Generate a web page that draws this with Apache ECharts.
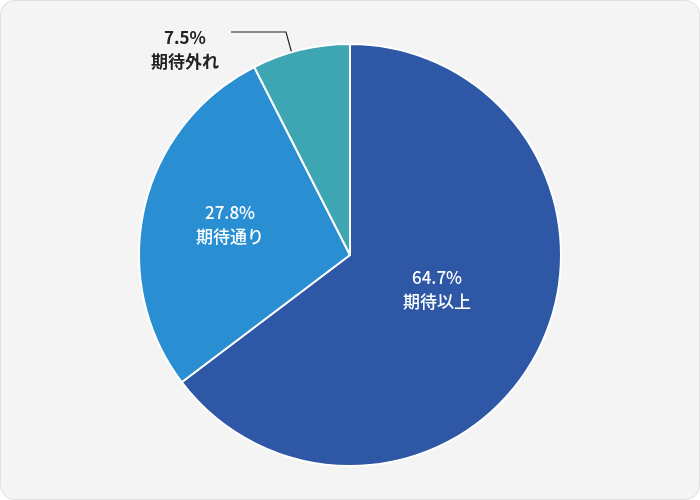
<!DOCTYPE html>
<html><head><meta charset="utf-8">
<script src="https://cdn.jsdelivr.net/npm/echarts@6/dist/echarts.min.js"></script>
<style>html,body{margin:0;background:#fff}#c{width:700px;height:500px}</style>
</head><body><div id="c"></div>
<script>
const categories = ['期待以上','期待通り','期待外れ'];
const values = [64.7, 27.8, 7.5];
const colors = ['#2E58A6','#2A8FD2','#3EA6B2'];
const chart = echarts.init(document.getElementById('c'));
const labelPos = [[437,290],[230,225],[185,50]];
chart.setOption({
  graphic:[{type:'rect',shape:{x:0.5,y:0.5,width:699,height:499,r:14},style:{fill:'#f4f4f4',stroke:'#e0e0e0'},z:-10}],
  series:[{
    type:'pie', center:[350,255], radius:[0,211], startAngle:90, clockwise:true,
    animation:false,
    itemStyle:{borderColor:'#fff',borderWidth:2},
    label:{show:true,position:'inside',color:'#fff',fontSize:17,fontWeight:500,lineHeight:24,
      fontFamily:'Noto Sans CJK JP',formatter:p=>p.value.toFixed(1)+'%\n'+p.name},
    labelLine:{show:false},
    labelLayout:function(p){
      const i=p.dataIndex, q=labelPos[i];
      const r={x:q[0],y:q[1],align:'center',verticalAlign:'middle'};
      if(i===2){r.labelLinePoints=[[297,72],[286,32],[231,32]];}
      return r;
    },
    data:categories.map((n,i)=>{
      const d={name:n,value:values[i],itemStyle:{color:colors[i]}};
      if(i===2){d.label={position:'outside',color:'#222',align:'left',fontWeight:600};d.labelLine={show:true,lineStyle:{color:'#222',width:1.2}};}
      return d;
    })
  }]
});
</script></body></html>
